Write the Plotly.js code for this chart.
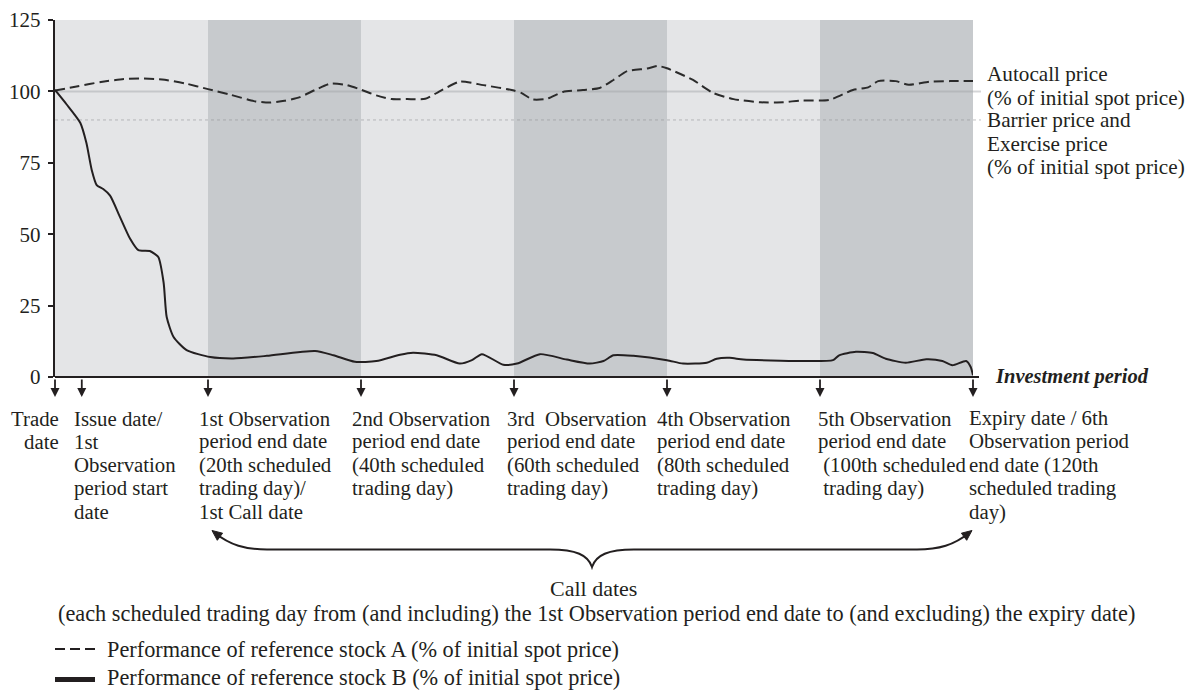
<!DOCTYPE html>
<html><head><meta charset="utf-8">
<script src="https://cdn.plot.ly/plotly-3.0.1.min.js"></script>
<style>html,body{margin:0;padding:0;background:#fff;} #chart{width:1196px;height:692px;}</style>
</head><body><div id="chart"></div>
<script>
// ---------- data ----------
const daysA = [0,3,6,9,11,14,17,20,23,26,28,30,32,34,36,38,40,42,44,46,48.4,50,52.9,56,60,61,62.4,64.3,66.4,69,71.2,73,74.8,77.4,78.8,80,83.4,86,88.7,92.2,95.2,97.4,101.2,104.3,106.3,107.6,109.9,111.6,114.3,117,120];
const stockA = [100.3,101.8,103.3,104.3,104.5,104.2,102.8,100.8,98.8,96.6,96.1,96.7,98,100.5,102.7,102.3,100.6,98.6,97.3,97.3,97.4,99.6,103.4,102.2,100.3,99.4,97.2,97.4,99.8,100.5,101.2,104,107.1,108,108.9,108.1,104,99.5,97.3,96.2,96.2,96.8,97,100.5,101.4,103.6,103.6,102.3,103.4,103.6,103.6];
const daysB = [0,1.5,3.3,4.1,4.8,5.45,6.3,7.2,8.5,9.8,10.9,12.4,13.5,14.2,14.6,15.5,17.2,20.3,23.3,27.7,34,36.4,39.2,42,45.1,46.8,49.9,52.9,54.5,55.8,58.6,60.4,63.4,66.9,69.9,71.7,73,75.6,80,82.1,85.2,86.5,88.2,90,97.4,101.7,102.5,104.7,106.9,108.6,111.2,113.9,116,117.3,119.1,119.7,120];
const stockB = [100.5,95.5,89,82,72.5,67.2,65.8,63.5,56,48.5,44.4,44.1,42,33,21,14,9.4,7,6.5,7.4,9.1,7.6,5.3,5.6,7.8,8.5,7.6,4.7,5.9,8,4.3,4.7,8,6.1,4.7,5.6,7.6,7.4,5.9,4.7,5,6.4,6.7,6.1,5.6,5.9,7.6,8.8,8.4,6.4,5,6.2,5.6,4.1,5.6,3.5,0.6];
const autocallLevel = 100;
const barrierLevel = 90;
const yTicks = [0,25,50,75,100,125];
const observationDays = [20,40,60,80,100,120];
const eventDays = [0,3.5,20,40,60,80,100,120];
const eventLabels = [
  ["Trade","date"],
  ["Issue date/","1st","Observation","period start","date"],
  ["1st Observation","period end date","(20th scheduled","trading day)/","1st Call date"],
  ["2nd Observation","period end date","(40th scheduled","trading day)"],
  ["3rd&nbsp; Observation","period end date","(60th scheduled","trading day)"],
  ["4th Observation","period end date","(80th scheduled","trading day)"],
  ["5th Observation","period end date","&nbsp;(100th scheduled","&nbsp;trading day)"],
  ["Expiry date / 6th","Observation period","end date (120th","scheduled trading","day)"]
];
const autocallLabel = ["Autocall price","(% of initial spot price)"];
const barrierLabel = ["Barrier price and","Exercise price","(% of initial spot price)"];
const axisLabel = "Investment period";
const callDatesTitle = "Call dates";
const callDatesNote = "(each scheduled trading day from (and including) the 1st Observation period end date to (and excluding) the expiry date)";
const legendA = "Performance of reference stock A (% of initial spot price)";
const legendB = "Performance of reference stock B (% of initial spot price)";

// ---------- layout helpers ----------
const W = 1196, H = 692;
const M = {l:55, r:223, t:20, b:315};
const PW = W - M.l - M.r, PH = H - M.t - M.b;
const px = v => (v - M.l) / PW;            // pixel x -> paper
const py = v => (H - M.b - v) / PH;        // pixel y -> paper
const FONT = "Liberation Serif, Times New Roman, serif";
const INK = "#231f20";

const shapes = [];
// dark bands between alternating observation end dates
for (let i = 0; i + 1 < observationDays.length; i += 2) {
  shapes.push({type:"rect", xref:"x", yref:"paper", x0:observationDays[i], x1:observationDays[i+1], y0:0, y1:1,
    fillcolor:"#c7cacd", line:{width:0}, layer:"below"});
}
// autocall and barrier levels
shapes.push({type:"line", xref:"paper", yref:"y", x0:0, x1:px(981), y0:autocallLevel, y1:autocallLevel,
  line:{color:"rgba(160,162,166,0.45)", width:2}, layer:"below"});
shapes.push({type:"line", xref:"paper", yref:"y", x0:0, x1:px(981), y0:barrierLevel, y1:barrierLevel,
  line:{color:"rgba(140,142,146,0.55)", width:1, dash:"dot"}, layer:"below"});
// x axis line (extends past plot)
shapes.push({type:"line", xref:"paper", yref:"paper", x0:0, x1:px(979), y0:0, y1:0,
  line:{color:INK, width:2.2}});
// curly bracket over call dates
const P = (x,y) => px(x).toFixed(5) + "," + py(y).toFixed(5);
const bracketPath = "M" + P(215,533) + " C" + P(230,545) + " " + P(245,549.5) + " " + P(267,549.5) +
  " L" + P(550,549.5) + " C" + P(576,549.5) + " " + P(588,555) + " " + P(592,567) +
  " C" + P(596,555) + " " + P(608,549.5) + " " + P(634,549.5) +
  " L" + P(917,549.5) + " C" + P(939,549.5) + " " + P(954,545) + " " + P(969,533);
shapes.push({type:"path", xref:"paper", yref:"paper", path:bracketPath, line:{color:INK, width:2}});
shapes.push({type:"path", xref:"paper", yref:"paper", path:"M"+P(212,530.5)+" L"+P(222.6,533.2)+" L"+P(217.3,540.3)+" Z",
  fillcolor:INK, line:{color:INK, width:1}});
shapes.push({type:"path", xref:"paper", yref:"paper", path:"M"+P(972,530.5)+" L"+P(966.7,540.3)+" L"+P(961.4,533.2)+" Z",
  fillcolor:INK, line:{color:INK, width:1}});
// legend samples
shapes.push({type:"line", xref:"paper", yref:"paper", x0:px(55), x1:px(95), y0:py(649), y1:py(649),
  line:{color:INK, width:2, dash:"10px,5px"}});
shapes.push({type:"line", xref:"paper", yref:"paper", x0:px(55), x1:px(95), y0:py(679.5), y1:py(679.5),
  line:{color:INK, width:5}});

const annotations = [];
// event arrows
eventDays.forEach(d => {
  annotations.push({x:d, xref:"x", y:py(397), yref:"paper", text:"", showarrow:true,
    ax:0, ay:-19, arrowhead:2, arrowsize:1, arrowwidth:1.8, arrowcolor:INK});
});
// event labels
const labelShift = [6,-10,-11,-11,-9,-12,-4,-6];
const rowY = [418,441,464.5,488,511.5];
eventLabels.forEach((lines, i) => {
  lines.forEach((t, r) => {
    annotations.push({x:eventDays[i], xref:"x", xshift:labelShift[i], y:py(rowY[r]), yref:"paper",
      text:t, showarrow:false, xanchor: i === 0 ? "right" : "left", yanchor:"middle",
      font:{family:FONT, size:20.8, color:INK}});
  });
});
// right-side labels
[[autocallLabel,[74,97.5]],[barrierLabel,[120,143.5,167]]].forEach(([lines, ys]) => {
  lines.forEach((t, r) => annotations.push({x:px(985), xref:"paper", y:py(ys[r]), yref:"paper", text:t,
    showarrow:false, xanchor:"left", yanchor:"middle", font:{family:FONT, size:21.2, color:INK}}));
});
annotations.push({x:px(993), xref:"paper", y:py(376), yref:"paper", text:"<b><i>"+axisLabel+"</i></b>",
  showarrow:false, xanchor:"left", yanchor:"middle", font:{family:FONT, size:20.5, color:INK}});
annotations.push({x:px(593), xref:"paper", y:py(588), yref:"paper", text:callDatesTitle,
  showarrow:false, xanchor:"center", yanchor:"middle", font:{family:FONT, size:22, color:INK}});
annotations.push({x:px(596), xref:"paper", y:py(613), yref:"paper", text:callDatesNote,
  showarrow:false, xanchor:"center", yanchor:"middle", font:{family:FONT, size:22.3, color:INK}});
annotations.push({x:px(105), xref:"paper", y:py(649), yref:"paper", text:legendA,
  showarrow:false, xanchor:"left", yanchor:"middle", font:{family:FONT, size:22.3, color:INK}});
annotations.push({x:px(105), xref:"paper", y:py(677.5), yref:"paper", text:legendB,
  showarrow:false, xanchor:"left", yanchor:"middle", font:{family:FONT, size:22.3, color:INK}});

const traces = [
  {x:daysA, y:stockA, type:"scatter", mode:"lines", name:legendA,
   line:{color:"#2b2b2b", width:2, dash:"10px,5px", shape:"spline", smoothing:0.6}, cliponaxis:false},
  {x:daysB, y:stockB, type:"scatter", mode:"lines", name:legendB,
   line:{color:INK, width:2, shape:"spline", smoothing:0.6}, cliponaxis:false}
];

const layout = {
  width:W, height:H, margin:M, paper_bgcolor:"#ffffff", plot_bgcolor:"#e4e5e7",
  showlegend:false,
  xaxis:{range:[0,120], showgrid:false, zeroline:false, showline:false, showticklabels:false, ticks:"", fixedrange:true},
  yaxis:{range:[0,125], tickvals:yTicks, ticktext:yTicks.map(String), showgrid:false, zeroline:false,
    showline:true, linecolor:INK, linewidth:2.2, ticks:"outside", ticklen:5, tickwidth:2, tickcolor:INK,
    ticklabelstandoff:3, tickfont:{family:FONT, size:21, color:INK}, fixedrange:true},
  shapes:shapes, annotations:annotations
};
Plotly.newPlot("chart", traces, layout, {displayModeBar:false, staticPlot:true});
</script></body></html>
